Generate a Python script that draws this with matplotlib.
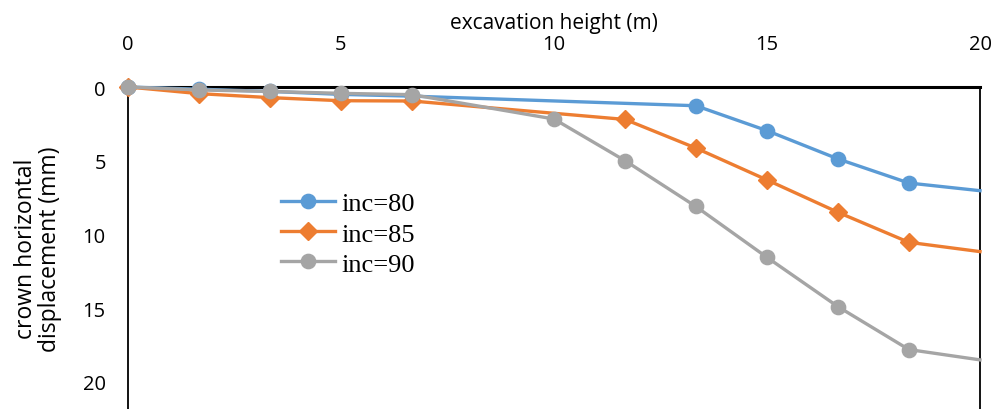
import matplotlib
matplotlib.use("Agg")
import matplotlib.pyplot as plt

x80 = [0, 1.67, 3.33, 5, 6.67, 13.33, 15, 16.67, 18.33, 20]
y80 = [0, 0.15, 0.3, 0.5, 0.62, 1.27, 2.96, 4.88, 6.51, 7.03]
x85 = [0, 1.67, 3.33, 5, 6.67, 11.67, 13.33, 15, 16.67, 18.33, 20]
y85 = [0, 0.45, 0.72, 0.93, 0.95, 2.2, 4.14, 6.3, 8.5, 10.53, 11.16]
x90 = [0, 1.67, 3.33, 5, 6.67, 10, 11.67, 13.33, 15, 16.67, 18.33, 20]
y90 = [0, 0.2, 0.3, 0.43, 0.52, 2.17, 5.0, 8.1, 11.55, 14.9, 17.8, 18.5]
labels = ["inc=80", "inc=85", "inc=90"]
xticks = [0, 5, 10, 15, 20]
yticks = [0, 5, 10, 15, 20]

W, H = 997, 410
fig = plt.figure(figsize=(W / 100, H / 100), dpi=100)
left, right, top = 128, 980, 88
ymax = 25
bottom = top + ymax * 14.75
ax = fig.add_axes([left / W, (H - bottom) / H, (right - left) / W, (bottom - top) / H])

colors = ["#5B9BD5", "#ED7D31", "#A5A5A5"]
series = [(x80, y80, "o"), (x85, y85, "D"), (x90, y90, "o")]
for (xs, ys, m), c, lab in zip(series, colors, labels):
    n = len(xs)
    ax.plot(xs, ys, color=c, lw=2.4, marker=m, ms=10.3 if m == "o" else 9.3,
            markevery=list(range(n - 1)), label=lab, clip_on=False, zorder=3)

fam = ["Open Sans", "DejaVu Sans"]
ax.set_xlim(0, 20)
ax.set_ylim(ymax, 0)
ax.xaxis.tick_top()
ax.xaxis.set_label_position("top")
ax.set_xticks(xticks)
ax.set_yticks(yticks)
tick_font = dict(family=fam, size=14.5)
ax.set_xticklabels([str(v) for v in xticks], **tick_font)
ax.set_yticklabels([str(v) for v in yticks], **tick_font)
ax.tick_params(axis="y", length=0, pad=16)
ax.tick_params(axis="x", length=0, pad=24)
ax.set_xlabel("excavation height (m)", fontsize=15, family=fam, labelpad=4)
fig.text(38 / W, 1 - 249 / H, "crown horizontal\ndisplacement (mm)", rotation=90,
         ha="center", va="center", fontsize=16.5, family=fam,
         linespacing=1.0)

ax.spines["top"].set_linewidth(2.2)
ax.spines["left"].set_linewidth(1.3)
ax.spines["right"].set_linewidth(1.3)
ax.spines["bottom"].set_visible(False)
for s in ax.spines.values():
    s.set_color("black")

leg = ax.legend(loc="upper left", bbox_to_anchor=((281 - left) / (right - left), 1 - (193 - top) / (bottom - top)),
                frameon=False, prop=dict(family=["Liberation Serif", "DejaVu Serif"], size=19),
                handlelength=2.05, handletextpad=0.25, labelspacing=0.25, borderaxespad=0,
                borderpad=0)

fig.savefig("out.png", dpi=100)
